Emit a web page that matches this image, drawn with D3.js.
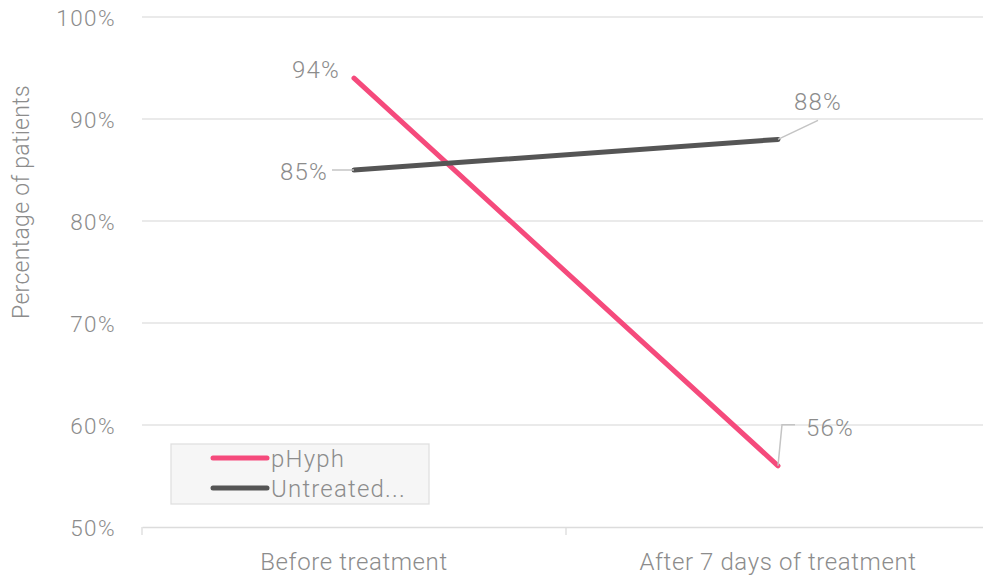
<!DOCTYPE html>
<html><head><meta charset="utf-8">
<script src="https://cdn.jsdelivr.net/npm/d3@7"></script>
<style>
html,body{margin:0;padding:0;background:#fff;}
text{font-family:Roboto,"Open Sans",sans-serif;font-weight:300;fill:#8c8c8c;}
</style></head><body>
<svg id="c" width="983" height="578"></svg>
<script>
const categories = ["Before treatment", "After 7 days of treatment"];
const seriesNames = ["pHyph", "Untreated..."];
const pHyph = [94, 56];
const untreated = [85, 88];
const yTicks = [50, 60, 70, 80, 90, 100];
const colors = ["#f54a7c", "#555555"];

(function () {
const svg = d3.select("#c");
const pL = 142, pR = 990, pT = 17, pB = 527;
const x = d3.scaleBand().domain(categories).range([pL, pR]);
const y = d3.scaleLinear().domain([50, 100]).range([pB, pT]);
const cx = c => x(c) + x.bandwidth() / 2;
const style = (sel, fs, ls) => sel.style("font-size", fs + "px").style("letter-spacing", ls + "px")
  .attr("fill", "#8c8c8c").style("font-family", "Roboto,sans-serif").style("font-weight", 300);

// gridlines
svg.append("g").selectAll("line").data(yTicks.filter(t => t > 50)).join("line")
  .attr("x1", pL).attr("x2", 983).attr("y1", d => y(d)).attr("y2", d => y(d))
  .attr("stroke", "#e3e3e3").attr("stroke-width", 1.3);

// y axis labels
const yAxis = d3.axisLeft(y).tickValues(yTicks).tickFormat(d => d + "%").tickSize(0).tickPadding(26);
const ga = svg.append("g").attr("transform", `translate(${pL},0)`).call(yAxis);
ga.select(".domain").remove();
style(ga.selectAll("text"), 22.5, 1.4).attr("dy", "0.38em");

// x axis
const xAxis = d3.axisBottom(x).tickSize(0).tickPadding(26);
const gx = svg.append("g").attr("transform", `translate(0,${pB})`).call(xAxis);
gx.select(".domain").attr("stroke", "#dcdcdc").attr("stroke-width", 1.3);
style(gx.selectAll("text"), 24, 0.6);
const bounds = [pL, x(categories[1])];
svg.append("g").selectAll("line").data(bounds).join("line")
  .attr("x1", d => d).attr("x2", d => d).attr("y1", pB).attr("y2", pB + 8)
  .attr("stroke", "#dcdcdc").attr("stroke-width", 1.3);

// y title
style(svg.append("text").attr("transform", "translate(29,202) rotate(-90)")
  .attr("text-anchor", "middle").text("Percentage of patients"), 23, 0.3);

// lines
const line = d3.line().x((d, i) => cx(categories[i])).y(d => y(d));
[pHyph, untreated].forEach((s, i) => {
  svg.append("path").datum(s).attr("d", line).attr("fill", "none")
    .attr("stroke", colors[i]).attr("stroke-width", 5).attr("stroke-linecap", "round");
});

// data labels with leader lines
const lbl = (tx, ty, txt, anchor) => style(svg.append("text").attr("x", tx).attr("y", ty)
  .attr("text-anchor", anchor).text(txt), 24, 1.2);
const leader = pts => svg.append("path").attr("d", d3.line()(pts)).attr("fill", "none")
  .attr("stroke", "#c4c4c4").attr("stroke-width", 1.5);

const c0 = cx(categories[0]), c1 = cx(categories[1]);
lbl(c0 - 14, y(pHyph[0]) + 0, pHyph[0] + "%", "end");
leader([[c0 - 22, y(untreated[0])], [c0, y(untreated[0])]]);
lbl(c0 - 26, y(untreated[0]) + 10, untreated[0] + "%", "end");
leader([[c1, y(untreated[1])], [c1 + 40, y(untreated[1]) - 19]]);
lbl(c1 + 40, y(untreated[1]) - 29, untreated[1] + "%", "middle");
leader([[c1, y(pHyph[1])], [c1 + 4, y(pHyph[1]) - 41], [c1 + 17, y(pHyph[1]) - 41]]);
lbl(c1 + 28, y(pHyph[1]) - 30, pHyph[1] + "%", "start");

// legend
const lg = svg.append("g");
lg.append("rect").attr("x", 171).attr("y", 444).attr("width", 258).attr("height", 60)
  .attr("fill", "#f6f6f6").attr("stroke", "#e0e0e0").attr("stroke-width", 1.3);
seriesNames.forEach((n, i) => {
  const yy = 458 + i * 30;
  lg.append("line").attr("x1", 213).attr("x2", 267).attr("y1", yy).attr("y2", yy)
    .attr("stroke", colors[i]).attr("stroke-width", 5).attr("stroke-linecap", "round");
  style(lg.append("text").attr("x", 271).attr("y", yy + 9).text(n), 24, 1.2);
});
})();
</script></body></html>
